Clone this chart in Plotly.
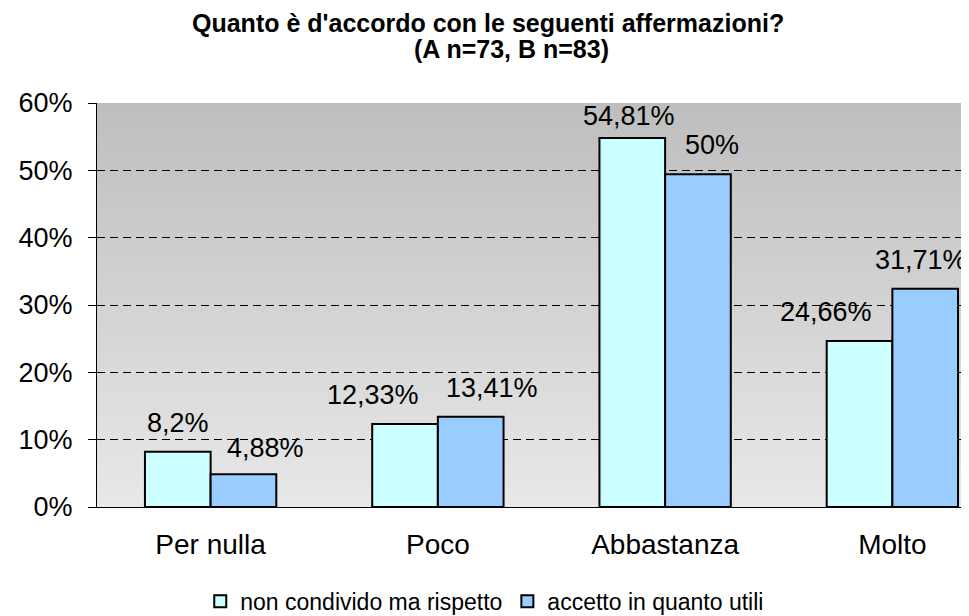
import base64
import plotly.graph_objects as go

categories = ["Per nulla", "Poco", "Abbastanza", "Molto"]
series_a_name = "non condivido ma rispetto"
series_b_name = "accetto in quanto utili"
series_a = [8.2, 12.33, 54.81, 24.66]
series_b = [4.88, 13.41, 49.4, 32.4]
labels_a = ["8,2%", "12,33%", "54,81%", "24,66%"]
labels_b = ["4,88%", "13,41%", "50%", "31,71%"]
y_ticks = [0, 10, 20, 30, 40, 50, 60]
y_tick_labels = ["0%", "10%", "20%", "30%", "40%", "50%", "60%"]
title_line1 = "Quanto è d'accordo con le seguenti affermazioni?"
title_line2 = "(A n=73, B n=83)"

# label offsets (styling, px)
dx_a = [0, -32, -3, -33]
dx_b = [22, 21, 14, -4]
dy_a = [12, 12, 5, 12]
dy_b = [9, 12, 12, 12]

FONT = "Liberation Sans, Arial, sans-serif"

svg = ('<svg xmlns="http://www.w3.org/2000/svg" width="100" height="100" preserveAspectRatio="none">'
       '<defs><linearGradient id="g" x1="0" y1="0" x2="0" y2="1">'
       '<stop offset="0" stop-color="#BEBEBE"/><stop offset="1" stop-color="#E8E8E8"/>'
       '</linearGradient></defs><rect width="100" height="100" fill="url(#g)"/></svg>')
bg_uri = "data:image/svg+xml;base64," + base64.b64encode(svg.encode()).decode()

fig = go.Figure()
fig.add_trace(go.Bar(x=categories, y=series_a, name=series_a_name,
                     marker=dict(color="#CCFFFF", line=dict(color="black", width=2))))
fig.add_trace(go.Bar(x=categories, y=series_b, name=series_b_name,
                     marker=dict(color="#99CCFF", line=dict(color="black", width=2))))

annotations = []
for i, c in enumerate(categories):
    annotations.append(dict(x=c, y=series_a[i], text=labels_a[i], showarrow=False,
                            xshift=-33 + dx_a[i], yshift=dy_a[i], yanchor="bottom",
                            font=dict(family=FONT, size=27, color="black")))
    annotations.append(dict(x=c, y=series_b[i], text=labels_b[i], showarrow=False,
                            xshift=33 + dx_b[i], yshift=dy_b[i], yanchor="bottom",
                            font=dict(family=FONT, size=27, color="black")))

annotations.append(dict(text="<b>" + title_line1 + "</b>", xref="paper", yref="paper",
                        x=0.4502, y=1.1980, xanchor="center", yanchor="middle",
                        showarrow=False, font=dict(family=FONT, size=25, color="black")))
annotations.append(dict(text="<b>" + title_line2 + "</b>", xref="paper", yref="paper",
                        x=0.4765, y=1.1337, xanchor="center", yanchor="middle",
                        showarrow=False, font=dict(family=FONT, size=25, color="black")))

fig.update_layout(
    width=969, height=616,
    margin=dict(l=85, r=11, t=95, b=117),
    paper_bgcolor="white",
    plot_bgcolor="rgba(0,0,0,0)",
    barmode="group",
    bargap=0.422,
    bargroupgap=0,
    font=dict(family=FONT, color="black"),
    xaxis=dict(range=[-0.5, 3.324], showline=True, linecolor="black", linewidth=1,
               ticks="", showgrid=False, tickfont=dict(size=28, color="black"),
               ticklabelstandoff=12),
    yaxis=dict(range=[0, 60], tickvals=y_ticks, ticktext=y_tick_labels,
               showline=True, linecolor="black", linewidth=1,
               ticks="outside", ticklen=8, tickcolor="black",
               showgrid=True, gridcolor="black", griddash="8px,5px", gridwidth=1,
               zeroline=False, tickfont=dict(size=27, color="black"),
               ticklabelstandoff=10),
    legend=dict(orientation="h", xref="container", x=0.492, xanchor="center",
                yref="container", y=0.037, yanchor="middle",
                font=dict(size=23, color="black"), itemsizing="constant",
                traceorder="normal"),
    annotations=annotations,
    images=[dict(source=bg_uri, xref="paper", yref="paper", x=0, y=1,
                 sizex=1, sizey=1, sizing="stretch", layer="below")],
)

fig.write_html("out.html")
